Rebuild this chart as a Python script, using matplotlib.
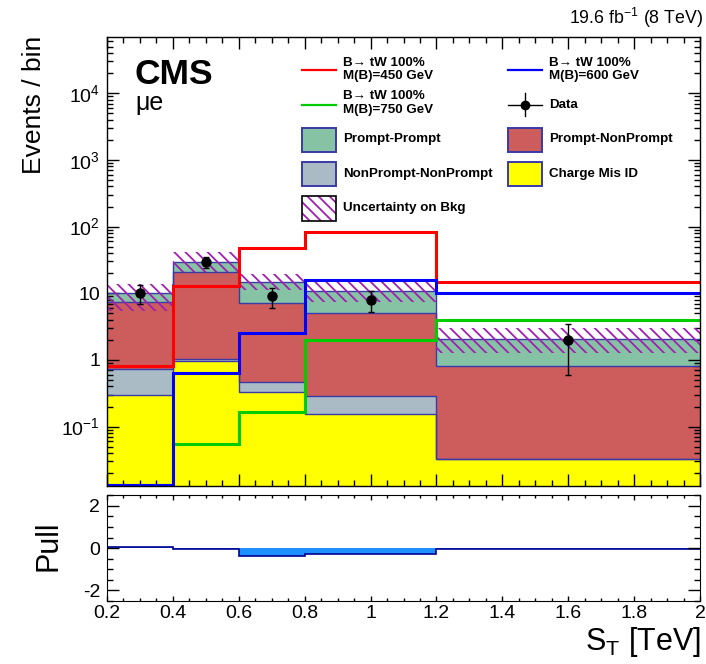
import numpy as np
import matplotlib
matplotlib.use('Agg')
import matplotlib.pyplot as plt
from matplotlib.patches import Rectangle
from matplotlib.lines import Line2D
from matplotlib.ticker import FixedLocator, FuncFormatter, LogLocator, MultipleLocator, NullFormatter

plt.rcParams['font.family'] = ['Liberation Sans', 'DejaVu Sans']
plt.rcParams['mathtext.fontset'] = 'custom'
plt.rcParams['mathtext.rm'] = 'Liberation Sans'
plt.rcParams['mathtext.it'] = 'Liberation Sans:italic'
plt.rcParams['mathtext.bf'] = 'Liberation Sans:bold'
plt.rcParams['axes.unicode_minus'] = False
plt.rcParams['hatch.linewidth'] = 1.3

# ---------------- data ----------------
bin_edges = [0.2, 0.4, 0.6, 0.8, 1.2, 2.0]
bin_centers = [0.3, 0.5, 0.7, 1.0, 1.6]

charge_misid = [0.30, 0.955, 0.33, 0.154, 0.033]
nonprompt_nonprompt = [0.43, 0.08, 0.13, 0.135, 0.0]
prompt_nonprompt = [6.77, 19.57, 6.74, 4.71, 0.777]
prompt_prompt = [2.7, 9.2, 7.4, 5.9, 1.25]

unc_low = [5.5, 21.0, 11.2, 7.5, 1.26]
unc_high = [13.6, 41.0, 19.2, 14.9, 3.0]

sig_450 = [0.81, 13.0, 47.3, 83.9, 14.6]
sig_600 = [0.0, 0.63, 2.5, 15.8, 10.2]
sig_750 = [0.0, 0.054, 0.168, 1.99, 4.02]

data = [10, 29, 9, 8, 2]
data_err_lo = [3.16, 5.39, 3.0, 2.83, 1.41]
data_err_hi = [3.16, 5.39, 3.0, 2.83, 1.41]

pull = [0.05, -0.05, -0.36, -0.27, -0.05]

xticks_labels = ['0.2', '0.4', '0.6', '0.8', '1', '1.2', '1.4', '1.6', '1.8', '2']

# ---------------- styling ----------------
W, H = 706, 664
fig = plt.figure(figsize=(7.06, 6.64), dpi=100)


def fx(x):
    return x / W


def fy(y):
    return 1 - y / H


ax = fig.add_axes([fx(107), fy(485.7), fx(700) - fx(107), fy(37.3) - fy(485.7)])
axp = fig.add_axes([fx(107), fy(601), fx(700) - fx(107), fy(495.3) - fy(601)])

c_pp = '#86C3A5'
c_pnp = '#CD5C5C'
c_npnp = '#ABBBC5'
c_cmid = '#FFFF00'
c_edge = '#3a3aa8'
c_hatch = '#a020b0'
c_sig = {'450': '#ff0000', '600': '#0000ff', '750': '#00cc00'}

ylo, yhi = 0.013, 6.9e4
floor = 1e-4
edges = np.array(bin_edges)

layers = np.array([charge_misid, nonprompt_nonprompt, prompt_nonprompt, prompt_prompt])
colors = [c_cmid, c_npnp, c_pnp, c_pp]
cum = np.cumsum(layers, axis=0)

ax.set_yscale('log')
for i in reversed(range(4)):
    ax.stairs(cum[i], edges, baseline=floor, fill=True, facecolor=colors[i],
              edgecolor='none', lw=0, zorder=1)
for i in range(4):
    ax.stairs(np.maximum(cum[i], floor), edges, baseline=None, color=c_edge,
              lw=1.0, zorder=2)

ax.stairs(unc_high, edges, baseline=unc_low, fill=True, facecolor='none',
          edgecolor=c_hatch, hatch='\\\\\\', lw=0, zorder=3)

for vals, key in [(sig_450, '450'), (sig_750, '750'), (sig_600, '600')]:
    ax.stairs(np.clip(vals, ylo * 1.03, None), edges, baseline=None, color=c_sig[key],
              lw=2.2, zorder=4)

ax.errorbar(bin_centers, data, yerr=[data_err_lo, data_err_hi], fmt='o', color='k',
            ms=6.5, capsize=2, elinewidth=1, capthick=1, zorder=6)

ax.set_xlim(0.2, 2.0)
ax.set_ylim(ylo, yhi)


def logfmt(v, pos):
    e = int(round(np.log10(v)))
    if e == 0:
        return '1'
    if e == 1:
        return '10'
    return r'$\mathregular{10^{%d}}$' % e


ax.yaxis.set_major_locator(FixedLocator([1e-1, 1, 10, 100, 1e3, 1e4]))
ax.yaxis.set_major_formatter(FuncFormatter(logfmt))
ax.yaxis.set_minor_locator(LogLocator(base=10, subs=np.arange(2, 10), numticks=20))
ax.yaxis.set_minor_formatter(NullFormatter())
ax.xaxis.set_major_locator(MultipleLocator(0.2))
ax.xaxis.set_minor_locator(MultipleLocator(0.05))
ax.tick_params(axis='both', which='both', direction='in', top=True, right=True,
               labelbottom=False)
ax.tick_params(axis='both', which='major', length=8.5, width=1, labelsize=14, pad=5)
ax.tick_params(axis='both', which='minor', length=4.2, width=1)
for s in ax.spines.values():
    s.set_linewidth(1.0)
    s.set_zorder(10)

# pull panel
axp.stairs(pull, edges, baseline=0, fill=True, facecolor='#1e8fff', edgecolor='none', lw=0)
axp.stairs(pull, edges, baseline=None, color='#000090', lw=1.2)
axp.set_xlim(0.2, 2.0)
axp.set_ylim(-2.5, 2.5)
axp.xaxis.set_major_locator(FixedLocator(np.arange(0.2, 2.01, 0.2)))
axp.xaxis.set_major_formatter(FuncFormatter(lambda v, p: xticks_labels[p] if p is not None and p < len(xticks_labels) else ''))
axp.xaxis.set_minor_locator(MultipleLocator(0.05))
axp.yaxis.set_major_locator(FixedLocator([-2, 0, 2]))
axp.yaxis.set_major_formatter(FuncFormatter(lambda v, p: '%d' % round(v)))
axp.yaxis.set_minor_locator(MultipleLocator(0.5))
axp.tick_params(axis='both', which='both', direction='in', top=True, right=True)
axp.tick_params(axis='x', which='major', length=3.8, width=1, labelsize=14, pad=3)
axp.tick_params(axis='x', which='minor', length=2.2, width=1)
axp.tick_params(axis='y', which='major', length=8.5, width=1, labelsize=14, pad=5)
axp.tick_params(axis='y', which='minor', length=4.2, width=1)

# axis titles
fig.text(fx(34), fy(36), 'Events / bin', rotation=90, ha='center', va='top', fontsize=19)
fig.text(fx(48), fy(546), 'Pull', rotation=90, ha='center', va='center', fontsize=22)
fig.text(fx(701), fy(650), r'$\mathregular{S_T}$ [TeV]', ha='right', va='baseline', fontsize=22)

# header texts
fig.text(fx(703), fy(18), r'19.6 fb$^{\mathregular{-1}}$ (8 TeV)', ha='right', va='center', fontsize=12.8)
fig.text(fx(135), fy(84), 'CMS', fontweight='bold', fontsize=25.5, va='baseline', ha='left')
fig.text(fx(135), fy(110), 'μe', fontsize=18, va='baseline', ha='left')

# manual legend
lx1, lx2 = 302, 336
rx1, rx2 = 508, 542
tx_l, tx_r = 343, 549
lfs = 9.6


def legline(x1, x2, y, color, lw=1.6):
    fig.add_artist(Line2D([fx(x1), fx(x2)], [fy(y), fy(y)], color=color, lw=lw,
                          transform=fig.transFigure))


def legrect(x1, y1, x2, y2, fc, ec, hatch=None):
    fig.add_artist(Rectangle((fx(x1), fy(y2)), fx(x2) - fx(x1), fy(y1) - fy(y2),
                             facecolor=fc, edgecolor=ec, lw=1.4, hatch=hatch,
                             transform=fig.transFigure))


def legtext(x, y, s):
    fig.text(fx(x), fy(y), s, ha='left', va='center', fontsize=lfs, fontweight='bold')


legline(lx1, lx2, 70, c_sig['450'])
legtext(tx_l, 62.5, 'B→ tW 100%')
legtext(tx_l, 76.5, 'M(B)=450 GeV')
legline(rx1, rx2, 70, c_sig['600'])
legtext(tx_r, 62.5, 'B→ tW 100%')
legtext(tx_r, 76.5, 'M(B)=600 GeV')

legline(lx1, lx2, 104.5, c_sig['750'])
legtext(tx_l, 96, 'B→ tW 100%')
legtext(tx_l, 110, 'M(B)=750 GeV')
legline(rx1, rx2, 104.5, 'k', lw=1)
fig.add_artist(Line2D([fx(525), fx(525)], [fy(93), fy(116)], color='k', lw=1,
                      transform=fig.transFigure))
fig.add_artist(Line2D([fx(525)], [fy(104.5)], color='k', marker='o', ms=6, lw=0,
                      transform=fig.transFigure))
legtext(tx_r, 104.5, 'Data')

legrect(lx1, 127.5, lx2, 151.5, c_pp, c_edge)
legtext(tx_l, 139, 'Prompt-Prompt')
legrect(rx1, 127.5, rx2, 151.5, c_pnp, c_edge)
legtext(tx_r, 139, 'Prompt-NonPrompt')

legrect(lx1, 162, lx2, 186, c_npnp, c_edge)
legtext(tx_l, 173.5, 'NonPrompt-NonPrompt')
legrect(rx1, 162, rx2, 186, c_cmid, c_edge)
legtext(tx_r, 173.5, 'Charge Mis ID')

fig.add_artist(Rectangle((fx(lx1), fy(220.5)), fx(lx2) - fx(lx1), fy(196) - fy(220.5),
                         facecolor='white', edgecolor=c_hatch, lw=0, hatch='\\\\\\',
                         transform=fig.transFigure))
fig.add_artist(Rectangle((fx(lx1), fy(220.5)), fx(lx2) - fx(lx1), fy(196) - fy(220.5),
                         facecolor='none', edgecolor='k', lw=1.2,
                         transform=fig.transFigure))
legtext(tx_l, 207.5, 'Uncertainty on Bkg')

fig.savefig('out.png', dpi=100)
